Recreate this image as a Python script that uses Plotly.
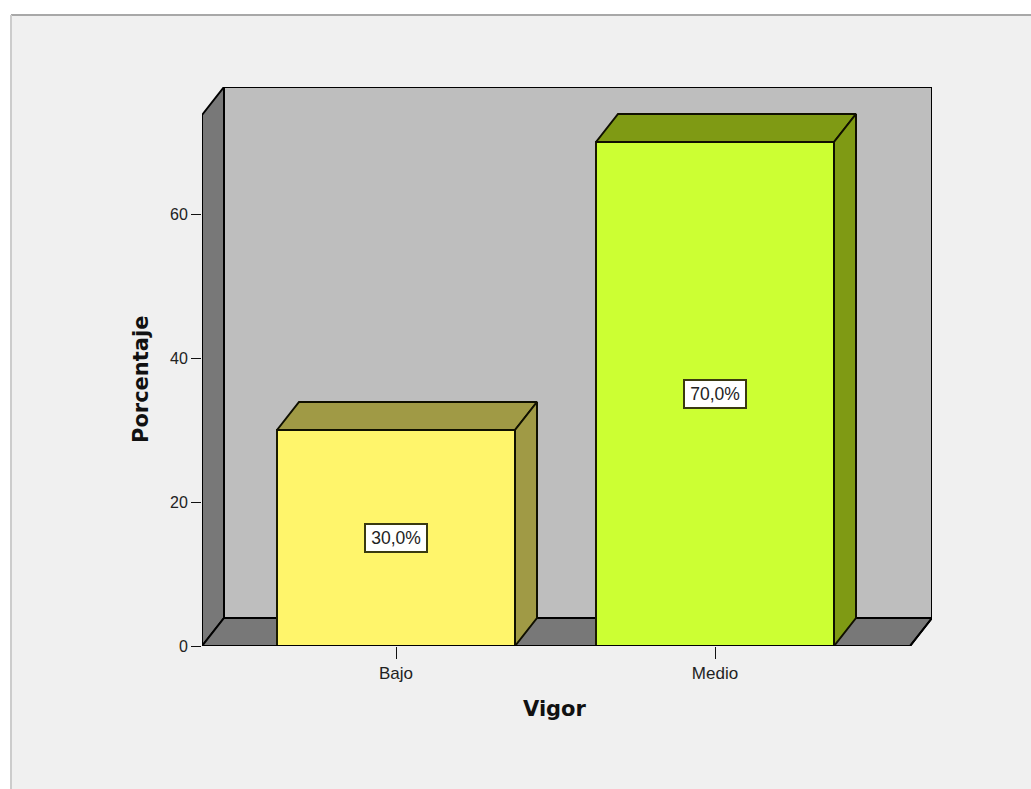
import plotly.graph_objects as go

# Data
categories = ["Bajo", "Medio"]
values = [30.0, 70.0]
labels = ["30,0%", "70,0%"]
y_ticks = [0, 20, 40, 60]
x_title = "Vigor"
y_title = "Porcentaje"

front_colors = ["#fff56b", "#ccff33"]
shade_colors = ["#a09a45", "#7f9a14"]

W, H = 1031, 789
L, R, T, B = 202, 932, 87, 646
xpos = [0, 1]
px_per_cat = 319.0
px_per_unit = 7.2
x0_range = -(396 - L) / px_per_cat
x1_range = (R - 396) / px_per_cat
y1_range = (B - T) / px_per_unit
x_front_end = (910 - 396) / px_per_cat
bar_w = 238 / px_per_cat
dx = 22 / px_per_cat
dy = 28 / px_per_unit


def px(v):
    return (v - L) / (R - L)


def py(v):
    return (B - v) / (B - T)


def poly(points):
    return "M " + " L ".join(f"{a},{b}" for a, b in points) + " Z"


shapes = [
    dict(type="rect", xref="paper", yref="paper", x0=px(11), x1=px(W + 5), y0=py(15), y1=py(H + 5),
         fillcolor="#f0f0f0", line_width=0, layer="below"),
    dict(type="line", xref="paper", yref="paper", x0=px(11), x1=px(W + 5), y0=py(15), y1=py(15),
         line=dict(color="#a8a8a8", width=2), layer="below"),
    dict(type="line", xref="paper", yref="paper", x0=px(11), x1=px(11), y0=py(15), y1=py(H + 5),
         line=dict(color="#cccccc", width=2), layer="below"),
    # back wall
    dict(type="path", xref="x", yref="y", layer="below",
         path=poly([(x0_range + dx, dy), (x1_range, dy), (x1_range, y1_range), (x0_range + dx, y1_range)]),
         fillcolor="#bebebe", line=dict(color="#000000", width=2)),
    # left wall
    dict(type="path", xref="x", yref="y", layer="below",
         path=poly([(x0_range, 0), (x0_range + dx, dy), (x0_range + dx, y1_range), (x0_range, y1_range - dy)]),
         fillcolor="#787878", line=dict(color="#000000", width=2)),
    # floor
    dict(type="path", xref="x", yref="y", layer="below",
         path=poly([(x0_range, 0), (x0_range + dx, dy), (x1_range, dy), (x_front_end, 0)]),
         fillcolor="#787878", line=dict(color="#000000", width=2)),
]

fig = go.Figure()

fig.add_trace(go.Bar(
    x=xpos, y=values, width=bar_w, marker=dict(color=front_colors, line=dict(color="#1a1a00", width=2)),
    cliponaxis=False, hoverinfo="skip", showlegend=False,
))

for xc, v, shade in zip(xpos, values, shade_colors):
    a, b = xc - bar_w / 2, xc + bar_w / 2
    # top face
    fig.add_trace(go.Scatter(
        x=[a, a + dx, b + dx, b, a], y=[v, v + dy, v + dy, v, v], mode="lines", fill="toself",
        fillcolor=shade, line=dict(color="#101000", width=2), cliponaxis=False,
        hoverinfo="skip", showlegend=False,
    ))
    # side face
    fig.add_trace(go.Scatter(
        x=[b, b + dx, b + dx, b, b], y=[0, dy, v + dy, v, 0], mode="lines", fill="toself",
        fillcolor=shade, line=dict(color="#101000", width=2), cliponaxis=False,
        hoverinfo="skip", showlegend=False,
    ))

# outer outline of walls and floor, kept unclipped at the plot edges
fig.add_trace(go.Scatter(
    x=[x0_range, x0_range, x_front_end, x1_range, x1_range],
    y=[y1_range - dy, 0, 0, dy, y1_range], mode="lines",
    line=dict(color="#000000", width=2), cliponaxis=False, hoverinfo="skip", showlegend=False,
))

annotations = [
    dict(x=xc, y=v / 2, xref="x", yref="y", text=t, showarrow=False, width=60, height=26,
         bgcolor="#ffffff", bordercolor="#3a3a10", borderwidth=2, borderpad=0,
         font=dict(family="Liberation Sans", size=17.5, color="#222222"))
    for xc, v, t in zip(xpos, values, labels)
]
annotations += [
    dict(x=px(555), y=py(709), xref="paper", yref="paper", xanchor="center", yanchor="middle",
         text=f"<b>{x_title}</b>", showarrow=False,
         font=dict(family="DejaVu Sans", size=21, color="#111111")),
    dict(x=px(141), y=py(380), xref="paper", yref="paper", xanchor="center", yanchor="middle",
         text=f"<b>{y_title}</b>", showarrow=False,
         textangle=-90, font=dict(family="DejaVu Sans", size=21, color="#111111")),
]

fig.update_layout(
    width=W, height=H,
    margin=dict(l=L, r=W - R, t=T, b=H - B, pad=0),
    paper_bgcolor="#ffffff", plot_bgcolor="rgba(0,0,0,0)",
    shapes=shapes, annotations=annotations, showlegend=False, hovermode=False,
    xaxis=dict(range=[x0_range, x1_range], tickmode="array", tickvals=xpos, ticktext=categories,
               showgrid=False, zeroline=False, showline=False, ticks="outside", ticklen=12, tickwidth=1,
               tickcolor="#111111", tickfont=dict(family="Liberation Sans", size=17, color="#222222")),
    yaxis=dict(range=[0, y1_range], tickmode="array", tickvals=y_ticks, ticktext=[str(t) for t in y_ticks],
               showgrid=False, zeroline=False, showline=False, ticks="outside", ticklen=10, tickwidth=1,
               tickcolor="#111111", tickfont=dict(family="Liberation Sans", size=16, color="#222222")),
)

fig.write_html("out.html", config=dict(displayModeBar=False),
               post_script="document.body.style.margin='0';document.body.style.overflow='hidden';")
